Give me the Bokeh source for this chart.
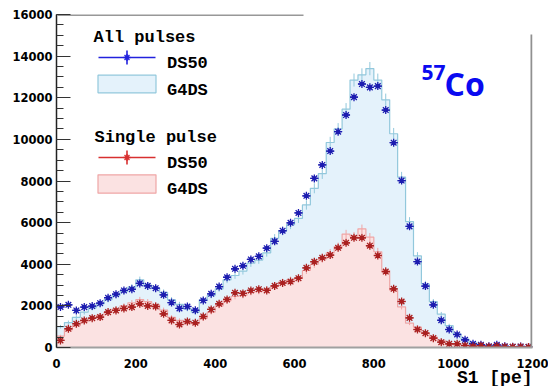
import numpy as np
from bokeh.plotting import figure
from bokeh.models import Range1d, Label, FixedTicker, Title
from bokeh.embed import file_html
from bokeh.resources import INLINE

# ---------------- data ----------------
bin_width = 20
bin_centers = list(range(10, 1200, 20))   # 60 bins, 0..1200 pe

ds50_all = [1950, 2050, 1780, 1940, 1990, 2130, 2390, 2560, 2740, 2800,
            3080, 2960, 2850, 2530, 2160, 1880, 1970, 1790, 2260, 2580,
            2925, 3375, 3780, 3925, 4230, 4380, 4770, 5100, 5610, 5990,
            6465, 7290, 8125, 8770, 9440, 10370, 11170, 12030, 12660, 12500,
            12560, 11410, 9840, 8020, 5820, 4130, 2950, 2050, 1310, 865,
            625, 370, 180, 130, 60, 130, 60, 40, 50, 30]

g4ds_all = [1000, 1200, 1450, 1700, 1900, 2100, 2300, 2500, 2700, 2900,
            3250, 3000, 2850, 2650, 2290, 2070, 1860, 1700, 2290, 2500,
            2820, 3250, 3460, 3670, 4050, 4200, 4550, 5250, 5600, 5900,
            6200, 6850, 7650, 8350, 9850, 10500, 11450, 12850, 13100, 13400,
            12850, 11900, 10270, 8190, 6050, 4400, 3050, 2200, 1600, 1050,
            650, 400, 220, 130, 90, 70, 50, 40, 30, 20]

ds50_single = [340, 900, 1140, 1300, 1410, 1460, 1700, 1780, 1875, 1940,
               2100, 2000, 1970, 1620, 1300, 1105, 1250, 1190, 1490, 1830,
               2100, 2310, 2630, 2600, 2740, 2800, 2740, 2960, 3100, 3170,
               3330, 3830, 4120, 4310, 4440, 4790, 5030, 5270, 5270, 4890,
               4420, 3650, 2820, 2210, 1425, 865, 690, 450, 255, 175,
               175, 95, 60, 90, 40, 70, 40, 30, 40, 20]

g4ds_single = [550, 850, 1050, 1250, 1400, 1550, 1700, 1850, 2000, 2150,
               2300, 2200, 2050, 1800, 1450, 1300, 1200, 1150, 1400, 1700,
               2000, 2250, 2450, 2500, 2650, 2700, 2800, 2950, 3150, 3250,
               3350, 3700, 4000, 4250, 4550, 4850, 5450, 5350, 5700, 5300,
               4600, 3700, 2750, 1950, 1170, 975, 690, 505, 340, 180,
               120, 80, 60, 50, 40, 30, 25, 20, 15, 10]

x_ticks = [0, 200, 400, 600, 800, 1000, 1200]
y_ticks = [0, 2000, 4000, 6000, 8000, 10000, 12000, 14000, 16000]
y_minor = list(range(0, 16001, 500))

# ---------------- styles ----------------
BLUE_PT = "#1c1cb0"
RED_PT = "#aa2020"
BLUE_FILL = "#e4f2fb"
BLUE_LINE = "#92c8dc"
PINK_FILL = "#fbe2e2"
PINK_LINE = "#efa6a6"
ERR_SCALE = 2.75   # statistical error bar scale (sqrt N)

W, H = 548, 386
FL, FR, FT, FB = 56, 532, 14, 347   # frame in pixels

p = figure(width=W, height=H, x_range=Range1d(0, 1200), y_range=Range1d(0, 16000),
           output_backend="svg", toolbar_location=None,
           min_border_left=FL, min_border_right=W - FR,
           min_border_top=FT, min_border_bottom=H - FB)
p.outline_line_color = None
p.grid.visible = False
p.background_fill_color = "white"
p.border_fill_color = "white"


def X(px):
    return (px - FL) * 1200.0 / (FR - FL)


def Y(py):
    return (FB - py) * 16000.0 / (FB - FT)


centers = np.array(bin_centers, dtype=float)
edges = np.append(centers - bin_width / 2, centers[-1] + bin_width / 2)


def hist(vals, fill):
    v = np.array(vals, dtype=float)
    ext = np.append(v, v[-1])
    p.varea_step(x=edges, y1=np.zeros_like(ext), y2=ext, step_mode="after",
                 fill_color=fill)
    return v, ext


va, ea = hist(g4ds_all, BLUE_FILL)
vs, es = hist(g4ds_single, PINK_FILL)

for v, ext, col in [(va, ea, BLUE_LINE), (vs, es, PINK_LINE)]:
    p.step(x=edges, y=ext, mode="after", line_color=col, line_width=1.2)
    err = ERR_SCALE * np.sqrt(v)
    p.segment(x0=centers, x1=centers, y0=v - err, y1=v + err,
              line_color=col, line_width=1)


def points(vals, col):
    v = np.array(vals, dtype=float)
    err = 0.8 * np.sqrt(v)
    p.segment(x0=centers - bin_width / 2, x1=centers + bin_width / 2, y0=v, y1=v,
              line_color=col, line_width=1.2)
    p.segment(x0=centers, x1=centers, y0=v - err, y1=v + err,
              line_color=col, line_width=1.2)
    p.scatter(x=centers, y=v, marker="asterisk", size=8, line_color=col, line_width=1.3)
    p.scatter(x=centers, y=v, marker="circle", size=3.5, fill_color=col, line_color=col)


points(ds50_all, BLUE_PT)
points(ds50_single, RED_PT)

# ---------------- axes ----------------
xa = p.xaxis[0]
xa.ticker = FixedTicker(ticks=x_ticks)
xa.axis_line_color = "#a0a0a0"
xa.axis_line_width = 2
xa.major_tick_line_color = None
xa.minor_tick_line_color = None
xa.major_label_standoff = 5
xa.major_label_text_font = "DejaVu Sans"
xa.major_label_text_font_style = "bold"
xa.major_label_text_font_size = "11.5px"
xa.major_label_text_color = "black"

ya = p.yaxis[0]
ya.ticker = FixedTicker(ticks=y_ticks, minor_ticks=y_minor)
ya.axis_line_color = "#222222"
ya.axis_line_width = 1.5
ya.major_tick_in = 14
ya.major_tick_out = 0
ya.minor_tick_in = 7
ya.minor_tick_out = 0
ya.major_tick_line_color = "#333333"
ya.minor_tick_line_color = "#333333"
ya.major_label_standoff = 4
ya.major_label_text_font = "DejaVu Sans"
ya.major_label_text_font_style = "bold"
ya.major_label_text_font_size = "11.5px"
ya.major_label_text_color = "black"

# x-axis title, right aligned below the axis
xtitle = Title(text="S1 [pe]", align="right", standoff=-10,
               text_font="Liberation Mono", text_font_style="bold",
               text_font_size="18px", text_color="black")
p.add_layout(xtitle, "below")

# frame pieces (top partial line, right gray line)
p.segment(x0=[X(57)], x1=[X(303)], y0=[Y(14.5)], y1=[Y(14.5)], line_color="#333333", line_width=1.2)
p.segment(x0=[X(531)], x1=[X(531)], y0=[Y(34)], y1=[Y(347)], line_color="#909090", line_width=2)

# ---------------- legend (manual) ----------------
MONO = "Liberation Mono"


def txt(px, py, s, size, font=MONO, color="black", align="left"):
    p.add_layout(Label(x=X(px), y=Y(py), text=s, text_font=font, text_font_style="bold",
                       text_font_size=size, text_color=color, text_align=align,
                       text_baseline="alphabetic"))


def leg_point(py, col):
    p.segment(x0=[X(98)], x1=[X(155)], y0=[Y(py)], y1=[Y(py)], line_color=col, line_width=1.6)
    p.segment(x0=[X(126.5)], x1=[X(126.5)], y0=[Y(py - 7)], y1=[Y(py + 7)], line_color=col, line_width=1.6)
    p.scatter(x=[X(126.5)], y=[Y(py)], marker="asterisk", size=7, line_color=col, line_width=1.3)


def leg_box(top, bottom, fill, line):
    p.quad(left=[X(97.5)], right=[X(155.5)], top=[Y(top)], bottom=[Y(bottom)],
           fill_color=fill, line_color=line, line_width=1.2)


txt(93, 37, "All pulses", "17px")
leg_point(57, "#2222dd")
txt(166.5, 63.3, "DS50", "17px")
leg_box(74.7, 92.3, BLUE_FILL, BLUE_LINE)
txt(166.5, 90, "G4DS", "17px")

txt(94, 136.7, "Single pulse", "17px")
leg_point(157, "#d83030")
txt(166.5, 163.3, "DS50", "17px")
leg_box(174.3, 192.7, PINK_FILL, PINK_LINE)
txt(166.5, 189.3, "G4DS", "17px")

# isotope label
txt(421, 71.7, "57", "21px", font="Open Sans", color="#0a0af0")
txt(444, 83.3, "Co", "32px", font="Open Sans", color="#0a0af0")

open("out.html", "w").write(file_html(p, INLINE))
